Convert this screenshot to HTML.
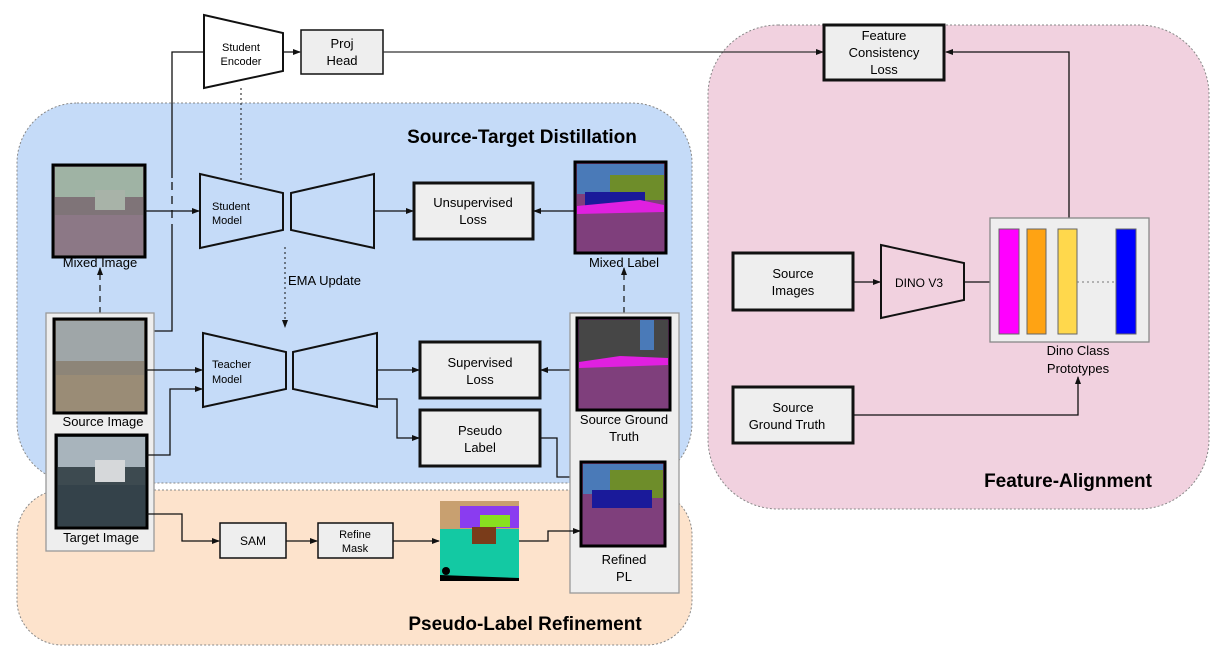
<!DOCTYPE html>
<html><head><meta charset="utf-8"><style>
html,body{margin:0;padding:0;background:#fff;}
svg{display:block;font-family:"Liberation Sans",Arial,sans-serif;}
</style></head><body>
<svg width="1224" height="652" viewBox="0 0 1224 652" xmlns="http://www.w3.org/2000/svg">
<defs>
<marker id="a" markerWidth="8" markerHeight="8" refX="7" refY="4" orient="auto" markerUnits="userSpaceOnUse"><path d="M0,1 L8,4 L0,7 z" fill="#111"/></marker>
</defs>
<rect x="17" y="490" width="675" height="155" rx="45" fill="#fde3cc" stroke="#888" stroke-dasharray="2,2"/>
<rect x="17" y="103" width="675" height="380" rx="60" fill="#c5dbf8" stroke="#888" stroke-dasharray="2,2"/>
<rect x="708" y="25" width="501" height="484" rx="70" fill="#f1d1df" stroke="#888" stroke-dasharray="2,2"/>

<text x="522" y="143" font-size="19" font-weight="bold" text-anchor="middle">Source-Target Distillation</text>
<text x="525" y="630" font-size="19" font-weight="bold" text-anchor="middle">Pseudo-Label Refinement</text>
<text x="1068" y="487" font-size="19" font-weight="bold" text-anchor="middle">Feature-Alignment</text>

<polygon points="204,15 283,33 283,71 204,88" fill="#fff" stroke="#111" stroke-width="2"/>
<text x="241" y="51" font-size="11" text-anchor="middle">Student</text>
<text x="241" y="65" font-size="11" text-anchor="middle">Encoder</text>
<rect x="301" y="30" width="82" height="44" fill="#eee" stroke="#111" stroke-width="1.5"/>
<text x="342" y="48" font-size="13" text-anchor="middle">Proj</text>
<text x="342" y="65" font-size="13" text-anchor="middle">Head</text>
<line x1="283" y1="52" x2="300" y2="52" stroke="#111" stroke-width="1.3" marker-end="url(#a)"/>
<line x1="383" y1="52" x2="823" y2="52" stroke="#333" stroke-width="1.3" marker-end="url(#a)"/>
<polyline points="154,331 172,331 172,232" fill="none" stroke="#111" stroke-width="1.3"/>
<line x1="172" y1="232" x2="172" y2="178" stroke="#111" stroke-width="1.3" stroke-dasharray="8,6"/>
<polyline points="172,178 172,52 203,52" fill="none" stroke="#111" stroke-width="1.3"/>
<line x1="241" y1="88" x2="241" y2="182" stroke="#111" stroke-width="1" stroke-dasharray="2,3"/>

<rect x="53" y="165" width="92" height="92" fill="#7f7478" stroke="#000" stroke-width="3"/>
<rect x="55" y="167" width="88" height="30" fill="#9fb3a4"/>
<rect x="95" y="190" width="30" height="20" fill="#a8b3a8"/>
<rect x="55" y="215" width="88" height="40" fill="#8c7886"/>
<text x="100" y="267" font-size="13" text-anchor="middle">Mixed Image</text>
<line x1="100" y1="313" x2="100" y2="268" stroke="#111" stroke-width="1.2" stroke-dasharray="6,5" marker-end="url(#a)"/>

<polygon points="200,174 283,193 283,230 200,248" fill="none" stroke="#111" stroke-width="2"/>
<polygon points="291,193 374,174 374,248 291,230" fill="none" stroke="#111" stroke-width="2"/>
<text x="212" y="210" font-size="11">Student</text>
<text x="212" y="224" font-size="11">Model</text>
<line x1="145" y1="211" x2="199" y2="211" stroke="#111" stroke-width="1.3" marker-end="url(#a)"/>
<line x1="374" y1="211" x2="413" y2="211" stroke="#111" stroke-width="1.3" marker-end="url(#a)"/>
<rect x="414" y="183" width="119" height="56" fill="#eee" stroke="#111" stroke-width="3"/>
<text x="473" y="207" font-size="13" text-anchor="middle">Unsupervised</text>
<text x="473" y="224" font-size="13" text-anchor="middle">Loss</text>
<line x1="575" y1="211" x2="534" y2="211" stroke="#111" stroke-width="1.3" marker-end="url(#a)"/>

<rect x="575" y="162" width="91" height="91" fill="#7f3f7c" stroke="#000" stroke-width="3"/>
<rect x="577" y="164" width="87" height="30" fill="#4a7ab8"/>
<rect x="610" y="175" width="54" height="25" fill="#6e8d2a"/>
<rect x="585" y="192" width="60" height="14" fill="#1a1a9a"/>
<polygon points="577,206 640,200 664,205 664,212 577,214" fill="#e020e0"/>
<rect x="577" y="214" width="87" height="37" fill="#7f3f7c"/>
<text x="624" y="267" font-size="13" text-anchor="middle">Mixed Label</text>
<line x1="624" y1="313" x2="624" y2="268" stroke="#111" stroke-width="1.2" stroke-dasharray="6,5" marker-end="url(#a)"/>

<line x1="285" y1="247" x2="285" y2="327" stroke="#111" stroke-width="1" stroke-dasharray="2,3" marker-end="url(#a)"/>
<text x="288" y="285" font-size="13">EMA Update</text>

<rect x="46" y="313" width="108" height="238" fill="#eee" stroke="#999" stroke-width="1.3"/>
<rect x="54" y="319" width="92" height="94" fill="#8d8578" stroke="#000" stroke-width="3"/>
<rect x="56" y="321" width="88" height="40" fill="#9fa6a8"/>
<rect x="56" y="375" width="88" height="36" fill="#9a8c76"/>
<text x="103" y="426" font-size="13" text-anchor="middle">Source Image</text>
<rect x="56" y="435" width="91" height="93" fill="#3d4a50" stroke="#000" stroke-width="3"/>
<rect x="58" y="437" width="87" height="30" fill="#a8b4bc"/>
<rect x="95" y="460" width="30" height="22" fill="#d6d8da"/>
<rect x="58" y="485" width="87" height="41" fill="#34424a"/>
<text x="101" y="542" font-size="13" text-anchor="middle">Target Image</text>

<polygon points="203,333 286,352 286,389 203,407" fill="none" stroke="#111" stroke-width="2"/>
<polygon points="293,352 377,333 377,407 293,389" fill="none" stroke="#111" stroke-width="2"/>
<text x="212" y="368" font-size="11">Teacher</text>
<text x="212" y="383" font-size="11">Model</text>
<line x1="146" y1="370" x2="202" y2="370" stroke="#111" stroke-width="1.3" marker-end="url(#a)"/>
<polyline points="147,455 170,455 170,389 202,389" fill="none" stroke="#111" stroke-width="1.3" marker-end="url(#a)"/>
<line x1="377" y1="370" x2="419" y2="370" stroke="#111" stroke-width="1.3" marker-end="url(#a)"/>
<polyline points="377,399 397,399 397,438 419,438" fill="none" stroke="#111" stroke-width="1.3" marker-end="url(#a)"/>
<rect x="420" y="342" width="120" height="56" fill="#eee" stroke="#111" stroke-width="3"/>
<text x="480" y="367" font-size="13" text-anchor="middle">Supervised</text>
<text x="480" y="384" font-size="13" text-anchor="middle">Loss</text>
<rect x="420" y="410" width="120" height="56" fill="#eee" stroke="#111" stroke-width="3"/>
<text x="480" y="435" font-size="13" text-anchor="middle">Pseudo</text>
<text x="480" y="452" font-size="13" text-anchor="middle">Label</text>
<line x1="577" y1="370" x2="541" y2="370" stroke="#111" stroke-width="1.3" marker-end="url(#a)"/>
<polyline points="540,438 557,438 557,477 580,477" fill="none" stroke="#111" stroke-width="1.3" marker-end="url(#a)"/>

<rect x="570" y="313" width="109" height="280" fill="#eee" stroke="#999" stroke-width="1.3"/>
<rect x="577" y="318" width="93" height="92" fill="#7f3f7c" stroke="#000" stroke-width="3"/>
<rect x="579" y="320" width="89" height="42" fill="#464646"/>
<rect x="640" y="320" width="14" height="30" fill="#4a7ab8"/>
<polygon points="579,362 620,356 668,358 668,365 579,368" fill="#e020e0"/>
<text x="624" y="424" font-size="13" text-anchor="middle">Source Ground</text>
<text x="624" y="441" font-size="13" text-anchor="middle">Truth</text>
<rect x="581" y="462" width="84" height="84" fill="#7f3f7c" stroke="#000" stroke-width="3"/>
<rect x="583" y="464" width="80" height="30" fill="#4a7ab8"/>
<rect x="610" y="470" width="53" height="28" fill="#6e8d2a"/>
<rect x="592" y="490" width="60" height="18" fill="#1a1a9a"/>
<text x="624" y="564" font-size="13" text-anchor="middle">Refined</text>
<text x="624" y="581" font-size="13" text-anchor="middle">PL</text>

<polyline points="147,514 182,514 182,541 219,541" fill="none" stroke="#111" stroke-width="1.3" marker-end="url(#a)"/>
<rect x="220" y="523" width="66" height="35" fill="#eee" stroke="#111" stroke-width="1.5"/>
<text x="253" y="545" font-size="12" text-anchor="middle">SAM</text>
<line x1="286" y1="541" x2="317" y2="541" stroke="#111" stroke-width="1.3" marker-end="url(#a)"/>
<rect x="318" y="523" width="75" height="35" fill="#eee" stroke="#111" stroke-width="1.5"/>
<text x="355" y="538" font-size="11" text-anchor="middle">Refine</text>
<text x="355" y="552" font-size="11" text-anchor="middle">Mask</text>
<line x1="393" y1="541" x2="439" y2="541" stroke="#111" stroke-width="1.3" marker-end="url(#a)"/>
<rect x="440" y="501" width="79" height="80" fill="#13c9a3"/>
<rect x="440" y="501" width="79" height="28" fill="#c8a070"/>
<rect x="460" y="506" width="59" height="22" fill="#8a3cf0"/>
<rect x="480" y="515" width="30" height="12" fill="#88e020"/>
<rect x="472" y="527" width="24" height="17" fill="#7a3c1a"/>
<polygon points="440,575 519,578 519,581 440,581" fill="#000"/>
<circle cx="446" cy="571" r="4" fill="#000"/>
<polyline points="519,541 548,541 548,531 580,531" fill="none" stroke="#111" stroke-width="1.3" marker-end="url(#a)"/>

<rect x="824" y="25" width="120" height="55" fill="#eee" stroke="#111" stroke-width="3"/>
<text x="884" y="40" font-size="13" text-anchor="middle">Feature</text>
<text x="884" y="57" font-size="13" text-anchor="middle">Consistency</text>
<text x="884" y="74" font-size="13" text-anchor="middle">Loss</text>
<polyline points="1069,218 1069,52 946,52" fill="none" stroke="#111" stroke-width="1.3" marker-end="url(#a)"/>
<rect x="733" y="253" width="120" height="57" fill="#eee" stroke="#111" stroke-width="3"/>
<text x="793" y="278" font-size="13" text-anchor="middle">Source</text>
<text x="793" y="295" font-size="13" text-anchor="middle">Images</text>
<line x1="853" y1="282" x2="880" y2="282" stroke="#111" stroke-width="1.3" marker-end="url(#a)"/>
<polygon points="881,245 964,263 964,300 881,318" fill="none" stroke="#111" stroke-width="2"/>
<text x="919" y="287" font-size="12" text-anchor="middle">DINO V3</text>
<line x1="964" y1="282" x2="998" y2="282" stroke="#111" stroke-width="1.3" marker-end="url(#a)"/>
<rect x="990" y="218" width="159" height="124" fill="#eee" stroke="#888" stroke-width="1.3"/>
<rect x="999" y="229" width="20" height="105" fill="#ff00ff" stroke="#666"/>
<rect x="1027" y="229" width="19" height="105" fill="#ffa313" stroke="#666"/>
<rect x="1058" y="229" width="19" height="105" fill="#ffd84c" stroke="#666"/>
<rect x="1116" y="229" width="20" height="105" fill="#0000ff" stroke="#666"/>
<line x1="1077" y1="282" x2="1116" y2="282" stroke="#777" stroke-dasharray="2,3"/>
<text x="1078" y="355" font-size="13" text-anchor="middle">Dino Class</text>
<text x="1078" y="373" font-size="13" text-anchor="middle">Prototypes</text>
<rect x="733" y="387" width="120" height="56" fill="#eee" stroke="#111" stroke-width="3"/>
<text x="793" y="412" font-size="13" text-anchor="middle">Source</text>
<text x="787" y="429" font-size="13" text-anchor="middle">Ground Truth</text>
<polyline points="853,415 1078,415 1078,377" fill="none" stroke="#111" stroke-width="1.3" marker-end="url(#a)"/>
</svg>
</body></html>
